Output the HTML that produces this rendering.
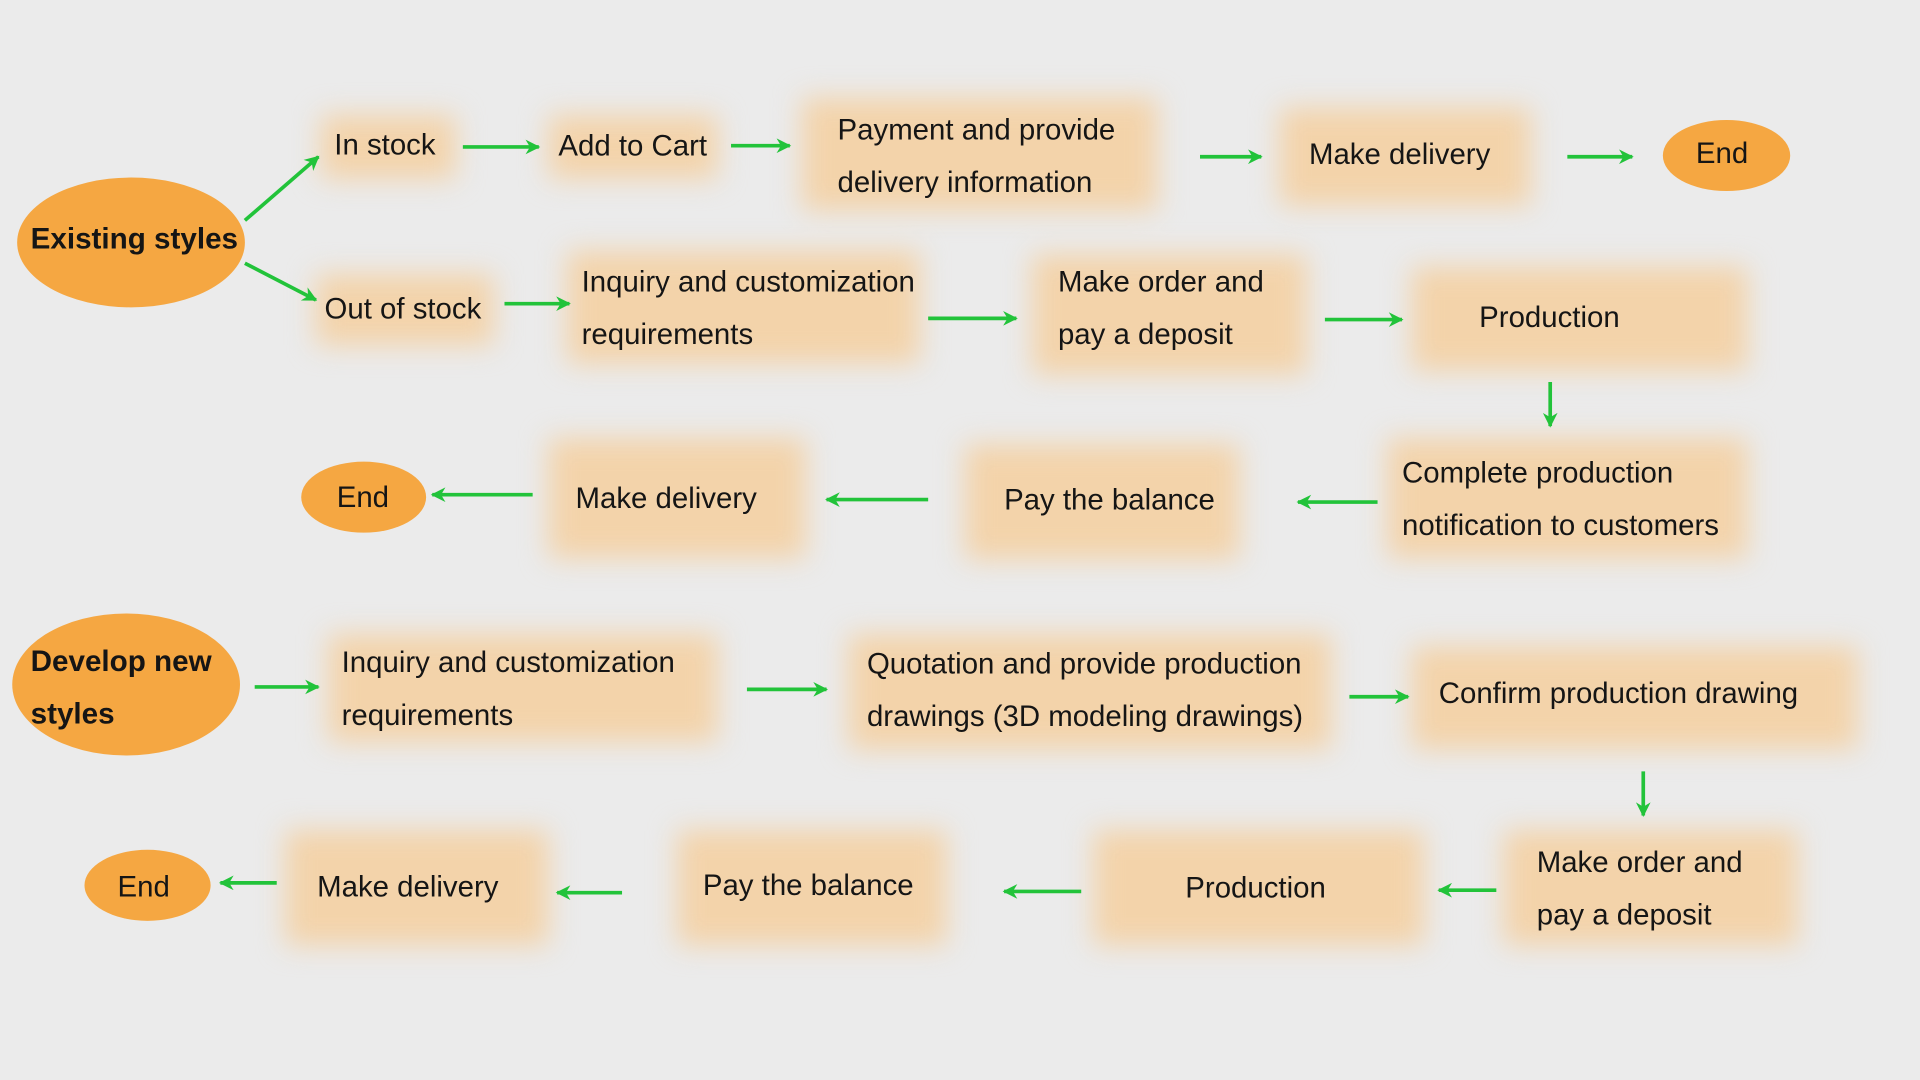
<!DOCTYPE html>
<html><head><meta charset="utf-8"><style>
html,body{margin:0;padding:0;width:1920px;height:1080px;overflow:hidden;background:#ebebeb;}
#s{position:absolute;left:0;top:0;width:1568px;height:882px;transform:scale(1.22449);transform-origin:0 0;font-family:"Liberation Sans",Arial,sans-serif;color:#151515;}
.b{position:absolute;background:#f3d3aa;filter:blur(11px);}
.t{position:absolute;font-size:24px;line-height:43px;white-space:nowrap;}
.e{position:absolute;background:#f5a742;border-radius:50%;}
.bo{font-weight:bold;font-size:24.2px;}
</style></head><body><div id="s">
<div class="b" style="left:262px;top:94px;width:110px;height:52px"></div>
<div class="b" style="left:448px;top:94px;width:138px;height:52px"></div>
<div class="b" style="left:655px;top:80px;width:290px;height:92px"></div>
<div class="b" style="left:1045px;top:88px;width:205px;height:80px"></div>
<div class="b" style="left:258px;top:224px;width:145px;height:58px"></div>
<div class="b" style="left:463px;top:205px;width:288px;height:92px"></div>
<div class="b" style="left:843px;top:208px;width:224px;height:98px"></div>
<div class="b" style="left:1153px;top:218px;width:274px;height:85px"></div>
<div class="b" style="left:1133px;top:358px;width:294px;height:98px"></div>
<div class="b" style="left:788px;top:363px;width:224px;height:94px"></div>
<div class="b" style="left:448px;top:358px;width:210px;height:98px"></div>
<div class="b" style="left:268px;top:518px;width:318px;height:88px"></div>
<div class="b" style="left:693px;top:518px;width:394px;height:94px"></div>
<div class="b" style="left:1153px;top:528px;width:364px;height:84px"></div>
<div class="b" style="left:1228px;top:678px;width:240px;height:94px"></div>
<div class="b" style="left:893px;top:678px;width:270px;height:94px"></div>
<div class="b" style="left:553px;top:678px;width:220px;height:94px"></div>
<div class="b" style="left:233px;top:678px;width:215px;height:94px"></div>

<div class="e" style="left:14px;top:145px;width:186px;height:106px"></div>
<div class="e" style="left:1358px;top:98px;width:104px;height:58px"></div>
<div class="e" style="left:246px;top:377px;width:102px;height:58px"></div>
<div class="e" style="left:10px;top:501px;width:186px;height:116px"></div>
<div class="e" style="left:69px;top:694px;width:103px;height:58px"></div>

<div class="t bo" style="left:25px;top:174px">Existing styles</div>
<div class="t" style="left:1385px;top:104px">End</div>
<div class="t" style="left:275px;top:385px">End</div>
<div class="t bo" style="left:25px;top:519px">Develop new<br>styles</div>
<div class="t" style="left:96px;top:703px">End</div>

<div class="t" style="left:273px;top:97px">In stock</div>
<div class="t" style="left:456px;top:98px">Add to Cart</div>
<div class="t" style="left:684px;top:85px">Payment and provide<br>delivery information</div>
<div class="t" style="left:1069px;top:105px">Make delivery</div>
<div class="t" style="left:265px;top:231px">Out of stock</div>
<div class="t" style="left:475px;top:209px">Inquiry and customization<br>requirements</div>
<div class="t" style="left:864px;top:209px">Make order and<br>pay a deposit</div>
<div class="t" style="left:1208px;top:238px">Production</div>
<div class="t" style="left:1145px;top:365px">Complete production<br>notification to customers</div>
<div class="t" style="left:820px;top:387px">Pay the balance</div>
<div class="t" style="left:470px;top:386px">Make delivery</div>
<div class="t" style="left:279px;top:520px">Inquiry and customization<br>requirements</div>
<div class="t" style="left:708px;top:521px">Quotation and provide production<br>drawings (3D modeling drawings)</div>
<div class="t" style="left:1175px;top:545px">Confirm production drawing</div>
<div class="t" style="left:1255px;top:683px">Make order and<br>pay a deposit</div>
<div class="t" style="left:968px;top:704px">Production</div>
<div class="t" style="left:574px;top:702px">Pay the balance</div>
<div class="t" style="left:259px;top:703px">Make delivery</div>

<svg width="1568" height="882" style="position:absolute;left:0;top:0">
<defs><marker id="a" viewBox="0 0 10 10" refX="9" refY="5" markerWidth="5" markerHeight="4" orient="auto" markerUnits="strokeWidth"><path d="M0,0 L10,5 L0,10 L3,5z" fill="#22c33a"/></marker></defs>
<g stroke="#22c33a" stroke-width="3" marker-end="url(#a)" fill="none">
<line x1="200" y1="180" x2="260" y2="128"/>
<line x1="200" y1="215" x2="258" y2="245"/>
<line x1="378" y1="120" x2="440" y2="120"/>
<line x1="597" y1="119" x2="645" y2="119"/>
<line x1="980" y1="128" x2="1030" y2="128"/>
<line x1="1280" y1="128" x2="1333" y2="128"/>
<line x1="412" y1="248" x2="465" y2="248"/>
<line x1="758" y1="260" x2="830" y2="260"/>
<line x1="1082" y1="261" x2="1145" y2="261"/>
<line x1="1266" y1="312" x2="1266" y2="348"/>
<line x1="1125" y1="410" x2="1060" y2="410"/>
<line x1="758" y1="408" x2="675" y2="408"/>
<line x1="435" y1="404" x2="353" y2="404"/>
<line x1="208" y1="561" x2="260" y2="561"/>
<line x1="610" y1="563" x2="675" y2="563"/>
<line x1="1102" y1="569" x2="1150" y2="569"/>
<line x1="1342" y1="630" x2="1342" y2="666"/>
<line x1="1222" y1="727" x2="1175" y2="727"/>
<line x1="883" y1="728" x2="820" y2="728"/>
<line x1="508" y1="729" x2="455" y2="729"/>
<line x1="226" y1="721" x2="180" y2="721"/>
</g></svg>
</div></body></html>
